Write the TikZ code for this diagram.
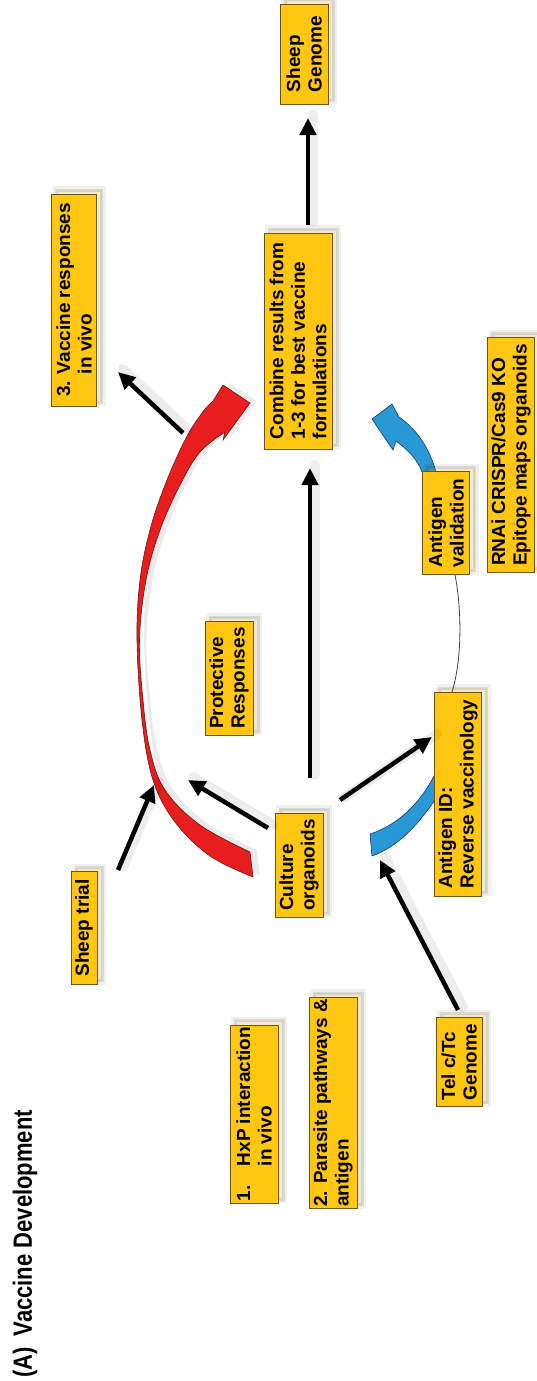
\documentclass[tikz,border=0pt]{standalone}
\usepackage{fontspec}
\setmainfont{Liberation Sans}
\usetikzlibrary{arrows.meta}
\definecolor{boxfill}{RGB}{255,198,18}
\definecolor{boxline}{RGB}{110,85,20}
\definecolor{redarc}{RGB}{232,30,30}
\definecolor{redline}{RGB}{110,20,20}
\definecolor{bluearc}{RGB}{40,152,215}
\definecolor{blueline}{RGB}{25,55,100}
\newcommand{\redshape}{plot[smooth, tension=0.6] coordinates {(253,877) (210,856) (175,822) (153,780) (142,720) (137,640) (140,580) (150,530) (165,485) (185,440) (202,413) (213,401)}
  -- (223,385) -- (250,403) -- (223,440) -- (225,432)
  -- plot[smooth, tension=0.6] coordinates {(225,432) (200,452) (180,485) (160,530) (146,580) (139.5,640) (143,700) (150,750) (165,790) (200,825) (250,852)}
  -- cycle}
\begin{document}
\begin{tikzpicture}[x=1pt,y=-1pt,
  box/.style={draw=boxline, line width=0.8pt, fill=boxfill, rotate=90,
    font=\fontsize{19}{21.5}\selectfont\bfseries, align=left, inner sep=2pt,
    preaction={draw=black, line width=8pt, opacity=0.06, fill, transform canvas={shift={(5pt,4pt)}}},
    preaction={draw=black, line width=3pt, opacity=0.10, fill, transform canvas={shift={(5pt,4pt)}}}},
  arr/.style={line width=4.5pt, black, -{Triangle[length=17pt,width=16pt]}},
  ashadow/.style={line width=10pt, black, opacity=0.07, line cap=round, transform canvas={shift={(5pt,3pt)}}},
  thinline/.style={draw=black!75, line width=0.8pt},
]
\useasboundingbox (0,0) rectangle (536,1381);

% red crescent arrow with soft shadow
\fill[black, opacity=0.08, transform canvas={shift={(7pt,2pt)}}] \redshape;
\filldraw[fill=redarc, draw=redline, line width=0.6pt] \redshape;

% blue pieces
\draw[thinline] (452,692) .. controls (462,660) and (462,610) .. (455,575);
\filldraw[fill=bluearc, draw=blueline, line width=0.6pt]
  (370,834) .. controls (395,826) and (420,806) .. (437,770) -- (437,797)
  .. controls (420,822) and (400,846) .. (372,856) -- cycle;
\filldraw[fill=bluearc, draw=blueline, line width=0.6pt]
  (436,472) .. controls (430,450) and (418,430) .. (399,417)
  -- (392,404) -- (372,419) -- (393,450) -- (396,441)
  .. controls (408,450) and (418,460) .. (422,472) -- cycle;

% boxes
\node[box, minimum width=100pt, minimum height=48pt] (genome) at (304,54) {Sheep\\ Genome};
\node[box, minimum width=216pt, minimum height=68pt] (combine) at (298,341) {Combine results from\\1-3 for best vaccine\\formulations};
\node[box, minimum width=212pt, minimum height=45pt] (vresp) at (74,300) {3. Vaccine responses\\\phantom{3. }in vivo};
\node[box, minimum width=235pt, minimum height=47pt] (rnai) at (511,455) {RNAi CRISPR/Cas9 KO\\Epitope maps organoids};
\node[box, minimum width=103pt, minimum height=47pt] (agval) at (446,523) {Antigen\\validation};
\node[box, minimum width=114pt, minimum height=48pt] (prot) at (229,678) {Protective\\Responses};
\node[box, minimum width=204pt, minimum height=47pt] (agid) at (458,794) {Antigen ID:\\Reverse vaccinology};
\node[box, minimum width=104pt, minimum height=48pt] (culture) at (299,865) {Culture\\organoids};
\node[box, minimum width=113pt, minimum height=26pt] (trial) at (84,928) {Sheep trial};
\node[box, minimum width=89pt, minimum height=46pt] (telc) at (459,1062) {Tel c/Tc\\Genome};
\node[box, minimum width=153pt, minimum height=48pt] (para) at (333,1103) {2. Parasite pathways \&\\antigen};
\node[box, minimum width=131pt, minimum height=48pt] (hxp) at (254,1114) {1.\quad HxP interaction\\\phantom{1.\quad }in vivo};

\node[rotate=90, anchor=west, font=\fontsize{22}{24}\selectfont\bfseries, inner sep=0pt] (title) at (25,1378) {\scalebox{1}[1.2]{(A)\enspace Vaccine Development}};

% connector end points
\coordinate (c1s) at (308,225); \coordinate (c1e) at (308,118);
\coordinate (c2s) at (310,778); \coordinate (c2e) at (310,468);
\coordinate (c3s) at (268,828); \coordinate (c3e) at (188,780);
\coordinate (c4s) at (340,800); \coordinate (c4e) at (432,737);
\coordinate (c5s) at (118,870); \coordinate (c5e) at (154,785);
\coordinate (c6s) at (458,1010); \coordinate (c6e) at (380,860);
\coordinate (c7s) at (183,433); \coordinate (c7e) at (118,372);

\foreach \a in {1,...,7} {\draw[ashadow] (c\a s) -- (c\a e);}
\draw[arr] (c1s) -- (c1e);
\draw[arr] (c2s) -- (c2e);
\draw[arr] (c3s) -- (c3e);
\draw[arr] (c4s) -- (c4e);
\draw[arr] (c5s) -- (c5e);
\draw[arr] (c6s) -- (c6e);
\draw[arr] (c7s) -- (c7e);
\end{tikzpicture}
\end{document}
